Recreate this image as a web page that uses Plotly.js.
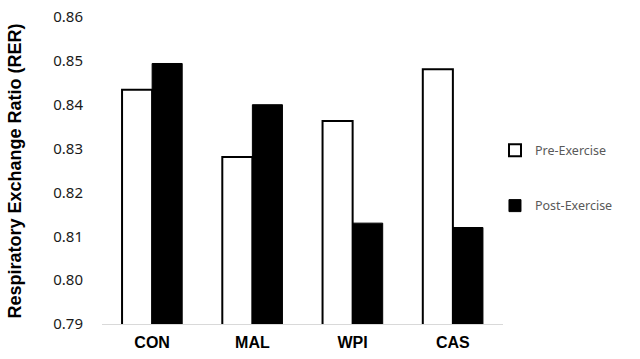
<!DOCTYPE html>
<html>
<head>
<meta charset="utf-8">
<script src="https://cdn.plot.ly/plotly-3.0.1.min.js"></script>
<style>html,body{margin:0;padding:0;background:#fff;}#chart{width:640px;height:359px;}</style>
</head>
<body>
<div id="chart"></div>
<script>
const categories = ["CON", "MAL", "WPI", "CAS"];
const preExercise = [0.8434, 0.8281, 0.8363, 0.8481];
const postExercise = [0.8494, 0.8400, 0.8130, 0.8120];
const yTicks = [0.79, 0.80, 0.81, 0.82, 0.83, 0.84, 0.85, 0.86];
const yTickLabels = ["0.79", "0.80", "0.81", "0.82", "0.83", "0.84", "0.85", "0.86"];

const traces = [
  {
    type: "bar", name: "Pre-Exercise", x: categories, y: preExercise,
    marker: {color: "#ffffff", line: {color: "#000000", width: 2}},
    legend: "legend", hoverinfo: "y"
  },
  {
    type: "bar", name: "Post-Exercise", x: categories, y: postExercise,
    marker: {color: "#000000", line: {color: "#000000", width: 1}},
    legend: "legend2", hoverinfo: "y"
  }
];

const legendFont = {family: "Noto Sans, Open Sans, sans-serif", size: 12.5, color: "#595959"};

const layout = {
  width: 640, height: 359,
  margin: {l: 102, r: 137, t: 17, b: 35, pad: 0},
  paper_bgcolor: "#ffffff", plot_bgcolor: "#ffffff",
  barmode: "group", bargap: 0.4, bargroupgap: 0,
  xaxis: {
    type: "category",
    showgrid: false, zeroline: false,
    showline: true, linecolor: "#d9d9d9", linewidth: 1,
    ticks: "", ticklabelstandoff: 4,
    tickfont: {family: "Liberation Sans, Arial, sans-serif", size: 16, color: "#000000", weight: "bold"}
  },
  yaxis: {
    range: [0.79, 0.86],
    tickvals: yTicks, ticktext: yTickLabels,
    showgrid: false, zeroline: false, showline: false,
    ticks: "", ticklabelstandoff: 18,
    tickfont: {family: "Noto Sans, Open Sans, sans-serif", size: 15, color: "#1a1a1a"}
  },
  showlegend: true,
  legend: {
    x: 0.98, xanchor: "left", y: 0.5645, yanchor: "middle",
    bgcolor: "rgba(0,0,0,0)", font: legendFont, itemwidth: 30
  },
  legend2: {
    x: 0.98, xanchor: "left", y: 0.3844, yanchor: "middle",
    bgcolor: "rgba(0,0,0,0)", font: legendFont, itemwidth: 30
  },
  annotations: [{
    text: "Respiratory Exchange Ratio (RER)",
    xref: "paper", yref: "paper",
    x: -0.217, y: 0.5, xanchor: "center", yanchor: "middle",
    textangle: -90, showarrow: false,
    font: {family: "Liberation Sans, Arial, sans-serif", size: 18, color: "#000000", weight: "bold"}
  }]
};

Plotly.newPlot("chart", traces, layout, {displayModeBar: false, staticPlot: true});
</script>
</body>
</html>
